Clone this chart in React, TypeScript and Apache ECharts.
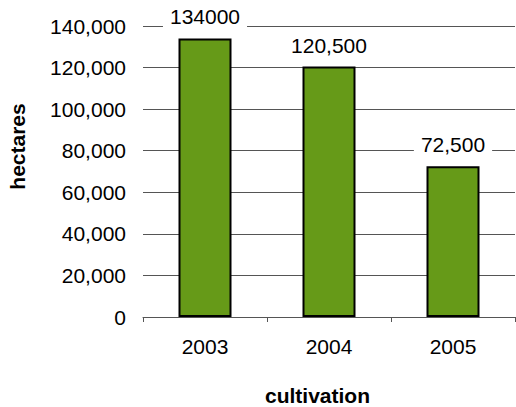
import React, { useEffect, useRef } from "react";
import * as echarts from "echarts";

// Cultivated area per year, in hectares
const years = ["2003", "2004", "2005"];
const hectares = [134000, 120500, 72500];
// Whether each value label uses thousands separators
const labelGrouped = [false, true, true];
const yTicks = { min: 0, max: 140000, interval: 20000 };

const FONT = "'Liberation Sans', Arial, sans-serif";

const fmt = (v: number, grouped: boolean) =>
  grouped ? v.toLocaleString("en-US") : String(v);

export default function App() {
  const ref = useRef<HTMLDivElement>(null);

  useEffect(() => {
    if (!ref.current) return;
    const chart = echarts.init(ref.current, null, { renderer: "svg" });
    chart.setOption({
      animation: false,
      backgroundColor: "#ffffff",
      textStyle: { fontFamily: FONT },
      grid: { left: 143, right: 1, top: 26, bottom: 90 },
      xAxis: {
        type: "category",
        data: years,
        axisLine: { show: true, lineStyle: { color: "#555555", width: 1 } },
        axisTick: { show: true, length: 5, lineStyle: { color: "#555555" } },
        axisLabel: { color: "#000", fontSize: 21, fontFamily: FONT, margin: 19 },
      },
      yAxis: {
        type: "value",
        min: yTicks.min,
        max: yTicks.max,
        interval: yTicks.interval,
        axisLine: { show: false },
        axisTick: { show: false },
        axisLabel: {
          color: "#000",
          fontSize: 21,
          fontFamily: FONT,
          margin: 17,
          formatter: (v: number) => fmt(v, true),
        },
        splitLine: { show: true, lineStyle: { color: "#555555", width: 1 } },
      },
      series: [
        {
          type: "bar",
          data: hectares,
          barWidth: 53,
          itemStyle: { color: "#669a18", borderColor: "#000", borderWidth: 2 },
          label: {
            show: true,
            position: "top",
            distance: 11,
            color: "#000",
            fontSize: 21,
            fontFamily: FONT,
            backgroundColor: "#ffffff",
            padding: [0, 7],
            formatter: (p: any) => fmt(p.value, labelGrouped[p.dataIndex]),
          },
        },
      ],
      graphic: [
        {
          type: "text",
          x: 17.5,
          y: 146.5,
          rotation: Math.PI / 2,
          style: {
            text: "hectares",
            font: `bold 21px ${FONT}`,
            fill: "#000",
            align: "center",
            verticalAlign: "middle",
          },
        },
        {
          type: "text",
          x: 317.5,
          y: 395.5,
          style: {
            text: "cultivation",
            font: `bold 21px ${FONT}`,
            fill: "#000",
            align: "center",
            verticalAlign: "middle",
          },
        },
      ],
    });
    return () => chart.dispose();
  }, []);

  return (
    <div
      ref={ref}
      style={{ position: "fixed", left: 0, top: 0, width: 516, height: 407 }}
    />
  );
}
